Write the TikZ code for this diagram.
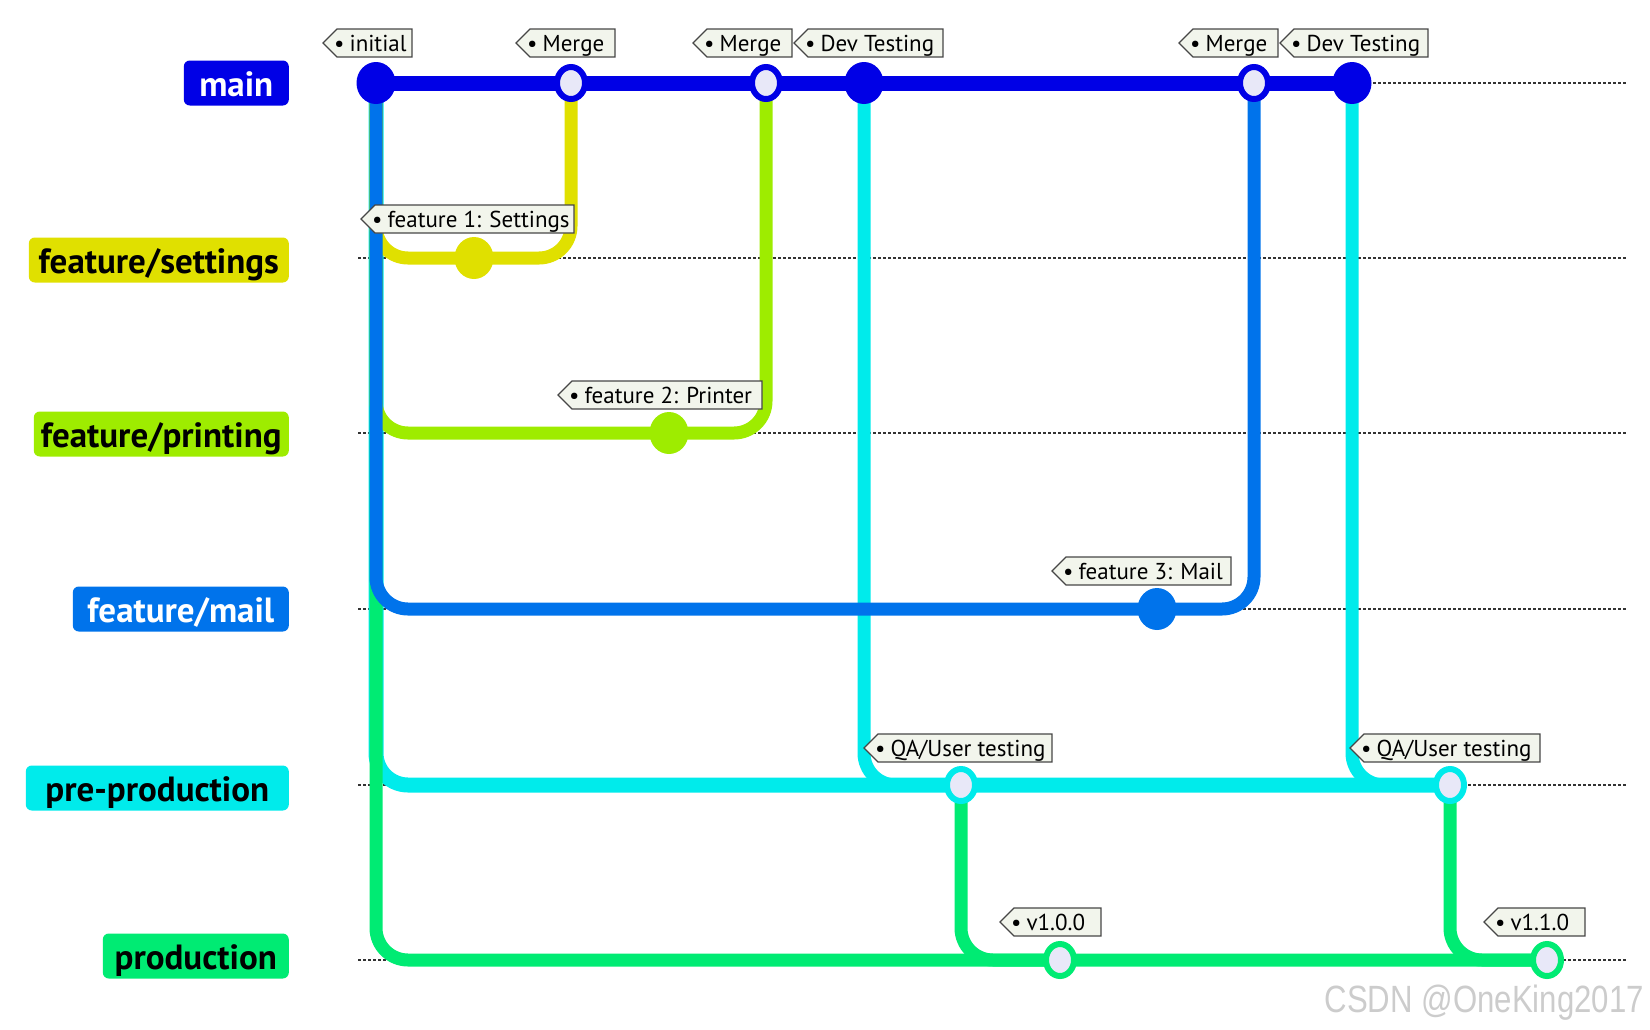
\documentclass[tikz,border=0pt]{standalone}
\usepackage{fontspec}
\setmainfont{PT Sans}
\newfontfamily\wmfont{Liberation Sans}
\usetikzlibrary{shapes.geometric}

\definecolor{cmain}{RGB}{0,0,230}
\definecolor{cset}{RGB}{224,224,0}
\definecolor{cprint}{RGB}{158,236,0}
\definecolor{cmail}{RGB}{0,115,235}
\definecolor{cpre}{RGB}{0,235,235}
\definecolor{cprod}{RGB}{0,235,115}
\definecolor{choll}{RGB}{232,232,248}
\definecolor{ctagfill}{RGB}{242,245,236}
\definecolor{ctagdraw}{RGB}{70,70,70}

\newcommand\gtag[5]{%
  \draw[tagbox] (#2,#4) -- (#2+14,#4-14) -- (#3,#4-14) -- (#3,#4+14) -- (#2+14,#4+14) -- cycle;
  \node[tagtext] (#1) at (#2+11,#4+8) {\textbullet\hspace{5pt}#5};
}

\begin{document}
\begin{tikzpicture}[x=1pt,y=-1pt,
  branchlbl/.style={rounded corners=6pt, minimum height=45pt, inner sep=0pt,
    text height=33pt, text depth=7pt,
    font=\fontsize{35}{40}\selectfont\bfseries, anchor=east},
  track/.style={line width=13pt, rounded corners=32pt},
  guide/.style={line width=1.8pt, draw=black!80, dash pattern=on 2.5pt off 2.5pt},
  fullc/.style={ellipse, minimum width=39pt, minimum height=42pt, inner sep=0pt, fill=#1},
  hollowc/.style={ellipse, minimum width=28pt, minimum height=32pt, inner sep=0pt,
    fill=choll, draw=#1, line width=6pt},
  tagbox/.style={fill=ctagfill, draw=ctagdraw, line width=1.2pt},
  tagtext/.style={font=\fontsize{23}{26}\selectfont, inner sep=0pt, anchor=base west},
]
\useasboundingbox (0,0) rectangle (1650,1029);

% branch labels
\node[branchlbl, fill=cmain, text=white, minimum width=105pt] (lmain) at (289,83) {main};
\node[branchlbl, fill=cset, text=black, minimum width=260pt] (lset) at (289,260) {feature/settings};
\node[branchlbl, fill=cprint, text=black, minimum width=255pt] (lprint) at (289,434) {feature/printing};
\node[branchlbl, fill=cmail, text=white, minimum width=216pt] (lmail) at (289,609) {feature/mail};
\node[branchlbl, fill=cpre, text=black, minimum width=263pt] (lpre) at (289,788) {pre-production};
\node[branchlbl, fill=cprod, text=black, minimum width=186pt] (lprod) at (289,956) {production};

% guide ends
\foreach \n/\yy in {1/83,2/258,3/433,4/609,5/785,6/960}{
  \coordinate (gl\n) at (358,\yy);
  \coordinate (gr\n) at (1626,\yy);
  \draw[guide] (gl\n) -- (gr\n);
}

% commit positions
\coordinate (c0) at (376,83);
\coordinate (m1) at (571,83);
\coordinate (m2) at (766,83);
\coordinate (d1) at (864,83);
\coordinate (m3) at (1254,83);
\coordinate (d2) at (1352,83);
\coordinate (s1) at (474,258);
\coordinate (p1) at (669,433);
\coordinate (f1) at (1157,609);
\coordinate (q1) at (961,785);
\coordinate (q2) at (1450,785);
\coordinate (r1) at (1060,960);
\coordinate (r2) at (1547,960);

% tracks
\draw[track, cpre, line width=15pt] (c0) |- (q1) -- (q2);
\draw[track, cpre] (d1) |- (q1);
\draw[track, cpre] (d2) |- (q2);
\draw[track, cprod] (c0) |- (r1) -- (r2);
\draw[track, cprod] (q1) |- (r1);
\draw[track, cprod] (q2) |- (r2);
\draw[track, cset] (c0) |- (s1) -| (m1);
\draw[track, cprint] (c0) |- (p1) -| (m2);
\draw[track, cmail] (c0) |- (f1) -| (m3);
\draw[line width=15pt, cmain] (c0) -- (d2);

% commits
\node[fullc=cmain] (n0) at (c0) {};
\node[hollowc=cmain] (nm1) at (m1) {};
\node[hollowc=cmain] (nm2) at (m2) {};
\node[fullc=cmain] (nd1) at (d1) {};
\node[hollowc=cmain] (nm3) at (m3) {};
\node[fullc=cmain] (nd2) at (d2) {};
\node[fullc=cset] (ns1) at (s1) {};
\node[fullc=cprint] (np1) at (p1) {};
\node[fullc=cmail] (nf1) at (f1) {};
\node[hollowc=cpre] (nq1) at (q1) {};
\node[hollowc=cpre] (nq2) at (q2) {};
\node[hollowc=cprod] (nr1) at (r1) {};
\node[hollowc=cprod] (nr2) at (r2) {};

% tags
\gtag{tinit}{323}{412}{43}{initial}
\gtag{tm1}{516}{615}{43}{Merge}
\gtag{tm2}{693}{792}{43}{Merge}
\gtag{td1}{794}{943}{43}{Dev Testing}
\gtag{tm3}{1179}{1278}{43}{Merge}
\gtag{td2}{1280}{1428}{43}{Dev Testing}
\gtag{tf1}{361}{574}{219}{feature 1: Settings}
\gtag{tf2}{558}{762}{395}{feature 2: Printer}
\gtag{tf3}{1052}{1231}{571}{feature 3: Mail}
\gtag{tq1}{864}{1052}{748}{QA/User testing}
\gtag{tq2}{1350}{1540}{748}{QA/User testing}
\gtag{tv1}{1000}{1101}{922}{v1.0.0}
\gtag{tv2}{1484}{1585}{922}{v1.1.0}

% watermark
\node[font=\wmfont\fontsize{38}{40}\selectfont, text=black!20, anchor=base east,
  inner sep=0pt, xscale=.82] (wm) at (1644,1012) {CSDN @OneKing2017};
\end{tikzpicture}
\end{document}
